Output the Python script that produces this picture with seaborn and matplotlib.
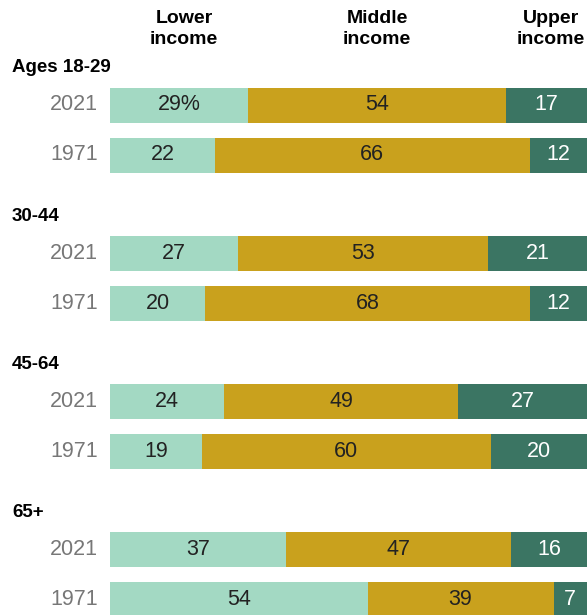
import matplotlib
matplotlib.use("Agg")
import matplotlib.pyplot as plt
import seaborn as sns
import numpy as np
import pandas as pd

groups = ["Ages 18-29", "30-44", "45-64", "65+"]
years = ["2021", "1971"]
lower = [29, 22, 27, 20, 24, 19, 37, 54]
middle = [54, 66, 53, 68, 49, 60, 47, 39]
upper = [17, 12, 21, 12, 27, 20, 16, 7]
headers = ["Lower\nincome", "Middle\nincome", "Upper\nincome"]

c_low = "#a3d9c3"
c_mid = "#c9a11d"
c_up = "#3b7563"

sns.set_theme(style="white")
plt.rcParams['font.family'] = ['Liberation Sans', 'DejaVu Sans']

# row centres in pixel units (y axis runs top->bottom)
pos = []
for g in range(len(groups)):
    base = 105 + 148.3 * g
    pos += [base, base + 50]
pos = np.array(pos)

df = pd.DataFrame({"pos": pos, "lower": lower, "middle": middle, "upper": upper})
# rounded shares don't always add to 100, so bars are scaled to full width
tot = df["lower"] + df["middle"] + df["upper"]
df["l_w"] = df["lower"] / tot * 100
df["lm_w"] = (df["lower"] + df["middle"]) / tot * 100
df["t_w"] = 100 * tot / tot

fig = plt.figure(figsize=(5.87, 6.15), dpi=100)
ax = fig.add_axes([0, 0, 1, 1])

# px = 110 + x*4.77
scale = 4.77
for col, c in [("t_w", c_up), ("lm_w", c_mid), ("l_w", c_low)]:
    sns.barplot(data=df, x=col, y="pos", orient="h", native_scale=True,
                color=c, saturation=1, width=0.70, linewidth=0, ax=ax)

ax.set_xlim(-110 / scale, 100)
ax.set_ylim(615, 0)
ax.axis("off")

fs = 15.5
for i in range(len(df)):
    r = df.iloc[i]
    lab = f"{lower[i]}%" if i == 0 else f"{lower[i]}"
    ax.text(r["l_w"] / 2, r["pos"], lab, ha="center", va="center", fontsize=fs, color="#222222")
    ax.text((r["l_w"] + r["lm_w"]) / 2, r["pos"], f"{middle[i]}", ha="center", va="center", fontsize=fs, color="#222222")
    ax.text((r["lm_w"] + 100) / 2, r["pos"], f"{upper[i]}", ha="center", va="center", fontsize=fs, color="white")
    ax.text(-12 / scale, r["pos"], years[i % 2], ha="right", va="center", fontsize=fs, color="#777777")

for g, name in enumerate(groups):
    ax.text(-98 / scale, 68 + 148.3 * g, name, ha="left", va="center", fontsize=13.5, fontweight="bold", color="black")

for x_px, h in zip([184, 377, 551], headers):
    ax.text((x_px - 110) / scale, 10, h, ha="center", va="top", fontsize=14, fontweight="bold",
            color="black", linespacing=1.3)

fig.savefig("out.png", dpi=100)
